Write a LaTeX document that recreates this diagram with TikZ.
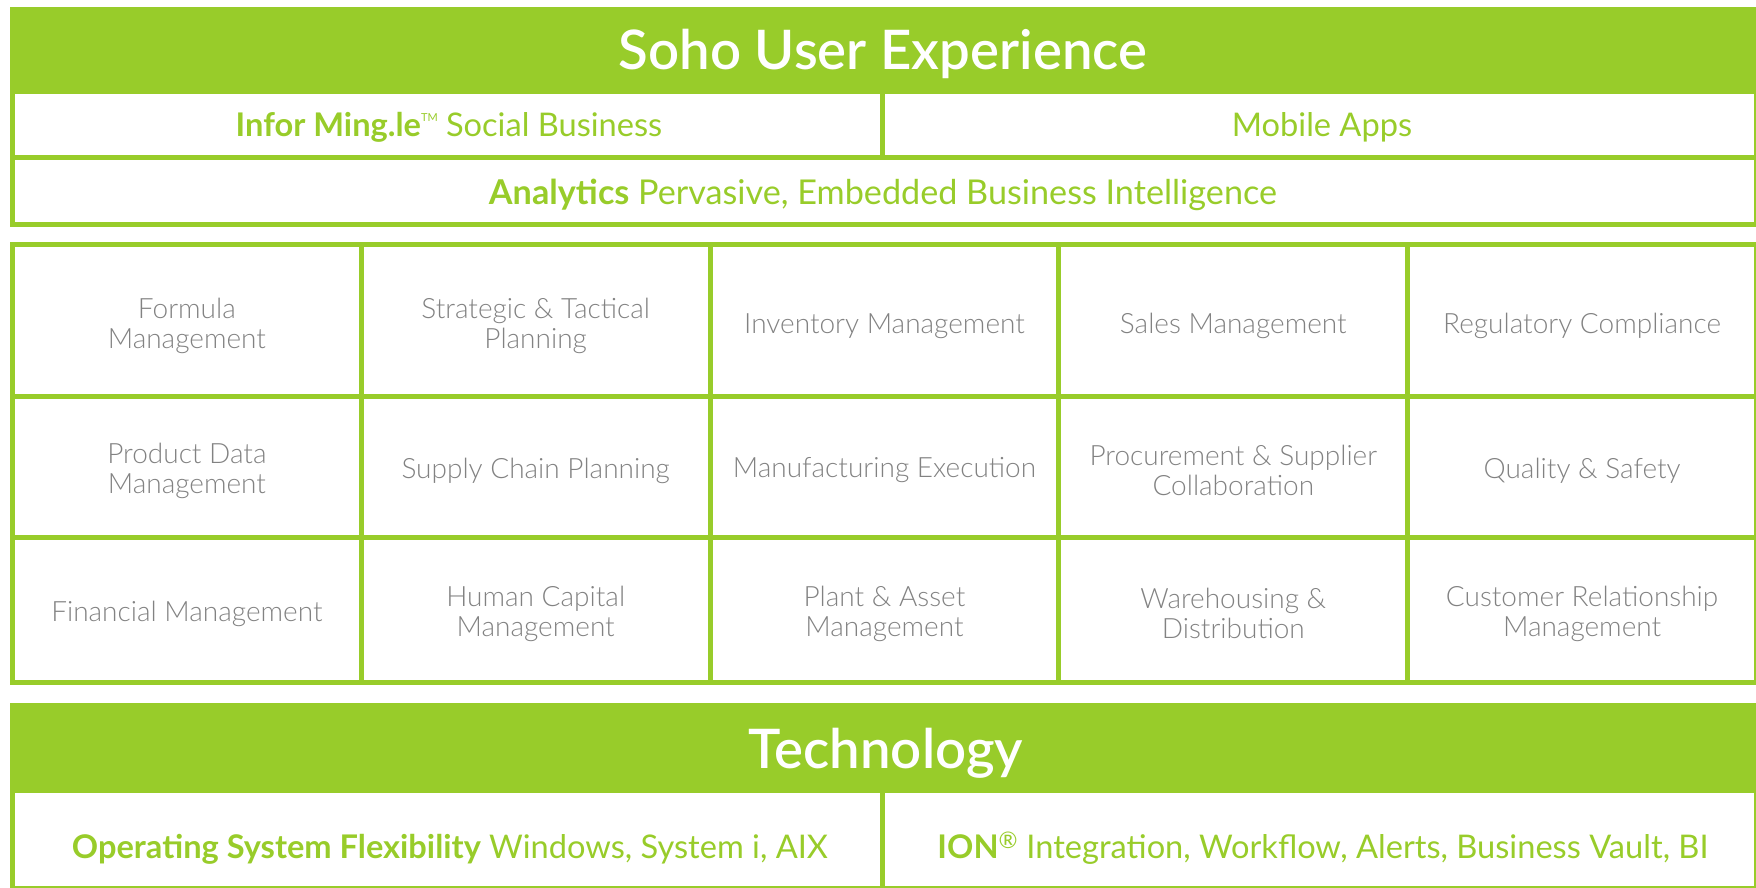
\documentclass[tikz,border=0pt]{standalone}
\usepackage{fontspec}
\setmainfont{Lato}
\newfontfamily\lightfont{Lato Light}
\newfontfamily\semifont{Lato Semibold}
\usetikzlibrary{positioning}
\definecolor{soho}{RGB}{152,204,42}
\definecolor{cellgray}{RGB}{130,130,130}

\begin{document}
\begin{tikzpicture}[x=1pt,y=-1pt,
  frame/.style={draw=soho,line width=5pt},
  title/.style={text=white,font=\semifont\fontsize{54.5}{60}\selectfont,anchor=base},
  rowtxt/.style={text=soho,font=\fontsize{32.6}{36}\selectfont,anchor=base},
  cell/.style={text=cellgray,font=\lightfont\fontsize{28}{30}\selectfont,align=center}]
\useasboundingbox (0,0) rectangle (1756,888);
% top block
\fill[soho] (10,7) rectangle (1759,94);
\draw[frame] (12.5,9.5) rectangle (1756.5,224.5);
\draw[frame] (10,157.5) -- (1759,157.5);
\draw[frame] (882.5,94) -- (882.5,157.5);
\node[title] (soho) at (883,70) {Soho User Experience};
\node[rowtxt] (mingle) at (449,137) {\textbf{Infor Ming.le}\raisebox{0.47em}{\fontsize{11}{11}\selectfont TM} Social Business};
\node[rowtxt] (mobile) at (1322,137) {Mobile Apps};
\node[rowtxt, font=\fontsize{34.2}{36}\selectfont] (analytics) at (883,204) {\textbf{Analytics} Pervasive, Embedded Business Intelligence};
% module grid
\draw[frame] (12.5,244.5) rectangle (1756.5,682.5);
\foreach \i in {1,...,4}{\draw[frame] (12.5+\i*348.8,244.5) -- ++(0,438);}
\foreach \y in {396.5,537.5}{\draw[frame] (12.5,\y) -- (1756.5,\y);}
\foreach \t [count=\c] in {{Formula\\Management},{Strategic \& Tactical\\Planning},Inventory Management,Sales Management,Regulatory Compliance}
  {\node[cell] (r1c\c) at (\c*348.8-161.9,326) {\t};}
\foreach \t [count=\c] in {{Product Data\\Management},Supply Chain Planning,Manufacturing Execution,{Procurement \& Supplier\\Collaboration},Quality \& Safety}
  {\node[cell] (r2c\c) at (\c*348.8-161.9,470.5) {\t};}
\foreach \t [count=\c] in {Financial Management,{Human Capital\\Management},{Plant \& Asset\\Management},{Warehousing \&\\Distribution},{Customer Relationship\\Management}}
  {\node[cell] (r3c\c) at (\c*348.8-161.9,613.5) {\t};}
% technology block
\fill[soho] (10,703) rectangle (1759,793);
\draw[frame] (12.5,705.5) rectangle (1756.5,888.5);
\draw[frame] (882.5,793) -- (882.5,888);
\node[title] (tech) at (886,768) {Technology};
\node[rowtxt] (osflex) at (450,858) {\textbf{Operating System Flexibility} Windows, System i, AIX};
\node[rowtxt] (ion) at (1323,858) {\textbf{ION}\textsuperscript{®} Integration, Workflow, Alerts, Business Vault, BI};
\end{tikzpicture}
\end{document}
